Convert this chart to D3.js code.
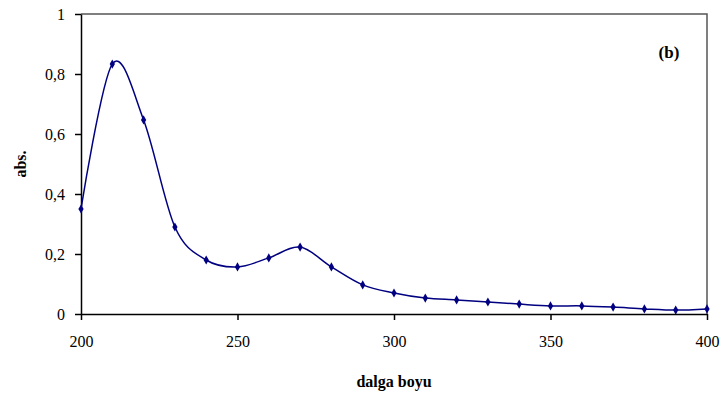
<!DOCTYPE html>
<html>
<head>
<meta charset="utf-8">
<script src="https://cdn.jsdelivr.net/npm/d3@7"></script>
<style>
  body { margin: 0; background: #fff; }
</style>
</head>
<body>
<div id="chart"></div>
<script>
// wavelength (nm) and absorbance
var wavelengths = [200, 210, 220, 230, 240, 250, 260, 270, 280, 290, 300,
                   310, 320, 330, 340, 350, 360, 370, 380, 390, 400];
var absorbance = [0.35, 0.833, 0.647, 0.29, 0.18, 0.157, 0.187, 0.223, 0.157, 0.097, 0.07,
                  0.053, 0.047, 0.04, 0.033, 0.027, 0.027, 0.023, 0.017, 0.013, 0.017];
var xTicks = [200, 250, 300, 350, 400];
var yTicks = [0, 0.2, 0.4, 0.6, 0.8, 1];

var width = 725, height = 403;
var margin = {top: 14, right: 18, bottom: 89, left: 81};
var serif = "'Liberation Serif', serif";

var svg = d3.select("#chart").append("svg")
    .attr("width", width)
    .attr("height", height);

var x = d3.scaleLinear().domain([200, 400]).range([margin.left, width - margin.right]);
var y = d3.scaleLinear().domain([0, 1]).range([height - margin.bottom, margin.top]);

var fmt = function (d) { return String(d).replace(".", ","); };

// plot area border (top and right)
svg.append("path")
    .attr("d", "M" + x(200) + "," + y(1) + "H" + x(400) + "V" + y(0))
    .attr("fill", "none")
    .attr("stroke", "#555")
    .attr("stroke-width", 1.5);

var xAxis = svg.append("g")
    .attr("transform", "translate(0," + y(0) + ")")
    .call(d3.axisBottom(x).tickValues(xTicks).tickSize(6).tickPadding(16).tickSizeOuter(0));

var yAxis = svg.append("g")
    .attr("transform", "translate(" + x(200) + ",0)")
    .call(d3.axisLeft(y).tickValues(yTicks).tickFormat(fmt).tickSize(6).tickPadding(10).tickSizeOuter(0));

[xAxis, yAxis].forEach(function (g) {
    g.selectAll("path, line").attr("stroke", "#000").attr("stroke-width", 1.5);
    g.selectAll("text").attr("font-size", 16).attr("fill", "#000")
        .style("font-family", serif);
});

// excel-style smoothed line
var line = d3.line()
    .x(function (d, i) { return x(wavelengths[i]); })
    .y(function (d) { return y(d); })
    .curve(d3.curveCardinal.tension(0));

svg.append("path")
    .datum(absorbance)
    .attr("d", line)
    .attr("fill", "none")
    .attr("stroke", "#000080")
    .attr("stroke-width", 1.5);

svg.selectAll(".pt")
    .data(absorbance)
    .enter().append("path")
    .attr("class", "pt")
    .attr("transform", function (d, i) { return "translate(" + x(wavelengths[i]) + "," + y(d) + ")"; })
    .attr("d", d3.symbol().type(d3.symbolDiamond).size(24))
    .attr("fill", "#000080");

svg.append("text")
    .attr("x", (x(200) + x(400)) / 2)
    .attr("y", 387)
    .attr("text-anchor", "middle")
    .attr("font-size", 16)
    .attr("font-weight", "bold")
    .style("font-family", serif)
    .text("dalga boyu");

svg.append("text")
    .attr("transform", "translate(26," + (y(0) + y(1)) / 2 + ") rotate(-90)")
    .attr("text-anchor", "middle")
    .attr("font-size", 16)
    .attr("font-weight", "bold")
    .style("font-family", serif)
    .text("abs.");

svg.append("text")
    .attr("x", 669)
    .attr("y", 58)
    .attr("text-anchor", "middle")
    .attr("font-size", 17)
    .attr("font-weight", "bold")
    .style("font-family", serif)
    .text("(b)");
</script>
</body>
</html>
